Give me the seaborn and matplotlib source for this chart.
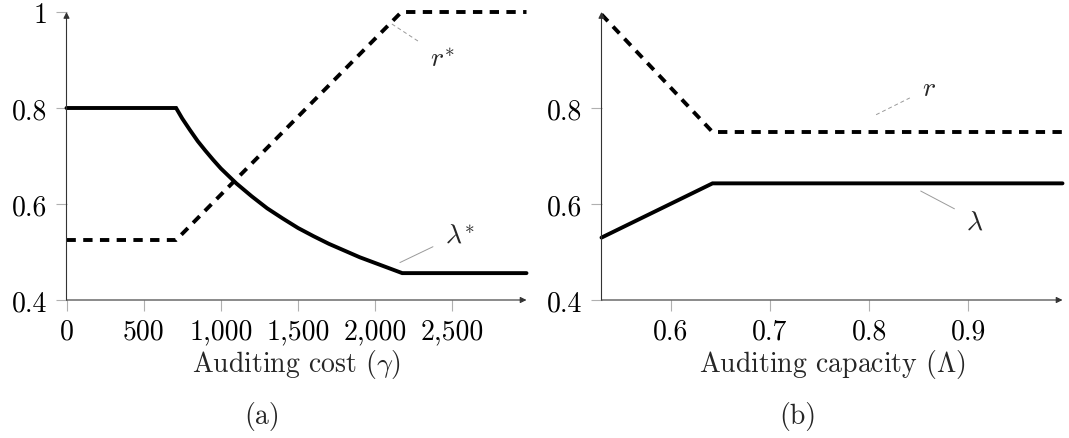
import numpy as np
import pandas as pd
import matplotlib
matplotlib.use("Agg")
import matplotlib.pyplot as plt
import seaborn as sns

# ---------------- data ----------------
# Panel (a): auditing cost gamma
gamma_lam = [0, 710, 750, 800, 850, 900, 950, 1000, 1100, 1200, 1300, 1400,
             1500, 1600, 1700, 1800, 1900, 2000, 2100, 2175, 2980]
lam_star = [0.800, 0.800, 0.778, 0.754, 0.731, 0.711, 0.692, 0.674, 0.643,
            0.616, 0.591, 0.570, 0.550, 0.533, 0.517, 0.503, 0.489, 0.477,
            0.465, 0.456, 0.456]
gamma_r = [0, 710, 2170, 2980]
r_star = [0.525, 0.525, 1.000, 1.000]
xticks_a = [0, 500, 1000, 1500, 2000, 2500]
xticklabels_a = ["0", "500", "1,000", "1,500", "2,000", "2,500"]
yticks_a = [0.4, 0.6, 0.8, 1.0]
yticklabels_a = ["0.4", "0.6", "0.8", "1"]

# Panel (b): auditing capacity Lambda
cap_lam = [0.53, 0.642, 0.995]
lam_b = [0.530, 0.643, 0.643]
cap_r = [0.53, 0.642, 0.995]
r_b = [0.995, 0.750, 0.750]
xticks_b = [0.6, 0.7, 0.8, 0.9]
xticklabels_b = ["0.6", "0.7", "0.8", "0.9"]
yticks_b = [0.4, 0.6, 0.8]
yticklabels_b = ["0.4", "0.6", "0.8"]

# ---------------- style ----------------
sns.set_theme(style="white")
plt.rcParams["font.family"] = ["cmr10", "DejaVu Serif"]
plt.rcParams["mathtext.fontset"] = "cm"
plt.rcParams["axes.formatter.use_mathtext"] = True
FS = 20

fig = plt.figure(figsize=(10.69, 4.39), dpi=100)
W, H = 1069, 439
def box(l, r, t, b):
    return [l / W, 1 - b / H, (r - l) / W, (b - t) / H]

axa = fig.add_axes(box(66.5, 526.5, 13, 301))
axb = fig.add_axes(box(601.5, 1062.5, 13, 301))

LW = 2.8
DASH = (0, (2.4, 1.9))

df_la = pd.DataFrame({"x": gamma_lam, "y": lam_star})
df_ra = pd.DataFrame({"x": gamma_r, "y": r_star})
sns.lineplot(data=df_la, x="x", y="y", ax=axa, color="black", lw=LW,
             estimator=None, sort=False)
sns.lineplot(data=df_ra, x="x", y="y", ax=axa, color="black", lw=LW,
             estimator=None, sort=False, linestyle=DASH)

df_lb = pd.DataFrame({"x": cap_lam, "y": lam_b})
df_rb = pd.DataFrame({"x": cap_r, "y": r_b})
sns.lineplot(data=df_lb, x="x", y="y", ax=axb, color="black", lw=LW,
             estimator=None, sort=False)
sns.lineplot(data=df_rb, x="x", y="y", ax=axb, color="black", lw=LW,
             estimator=None, sort=False, linestyle=DASH)
for ln in axa.lines + axb.lines:
    ln.set_dash_capstyle("butt")
    ln.set_solid_joinstyle("miter")
    ln.set_clip_on(False)

def style_axis(ax, xlim, ylim, xt, xtl, yt, ytl, xlabel):
    ax.set_xlim(*xlim)
    ax.set_ylim(*ylim)
    ax.set_xticks(xt)
    ax.set_xticklabels(xtl)
    ax.set_yticks(yt)
    ax.set_yticklabels(ytl)
    for s in ax.spines.values():
        s.set_visible(False)
    ax.tick_params(axis="both", which="major", direction="out", length=8,
                   width=0.8, color="#b0b0b0", labelsize=FS, labelcolor="black",
                   bottom=True, left=True)
    ax.tick_params(axis="y", pad=6)
    ax.tick_params(axis="x", pad=5)
    ax.set_xlabel(xlabel, fontsize=FS, labelpad=2)
    ax.set_ylabel("")
    ax.grid(False)
    ax.set_facecolor("none")
    arrow = dict(arrowstyle="-|>", color="#333333", lw=0.8,
                 mutation_scale=9, shrinkA=0, shrinkB=0)
    ax.annotate("", xy=(1.0, 0), xytext=(0, 0), xycoords="axes fraction",
                textcoords="axes fraction", arrowprops=arrow, annotation_clip=False)
    ax.annotate("", xy=(0, 1.0), xytext=(0, 0), xycoords="axes fraction",
                textcoords="axes fraction", arrowprops=arrow, annotation_clip=False)

style_axis(axa, (0, 2980), (0.4, 1.0), xticks_a, xticklabels_a, yticks_a,
           yticklabels_a, r"Auditing cost ($\gamma$)")
style_axis(axb, (0.53, 0.995), (0.4, 1.0), xticks_b, xticklabels_b, yticks_b,
           yticklabels_b, r"Auditing capacity ($\Lambda$)")

# pins and labels
PIN = "#9a9a9a"
axa.plot([2108, 2284], [0.975, 0.938], color=PIN, lw=0.7, linestyle=(0, (4, 3)))
axa.text(2355, 0.887, r"$r^{*}$", fontsize=FS, ha="left", va="baseline")
axa.plot([2160, 2374], [0.478, 0.511], color=PIN, lw=0.7)
axa.text(2452, 0.520, r"$\lambda^{*}$", fontsize=FS, ha="left", va="baseline")

axb.plot([0.807, 0.841], [0.786, 0.821], color=PIN, lw=0.7, linestyle=(0, (4, 3)))
axb.text(0.853, 0.828, r"$r$", fontsize=FS, ha="left", va="baseline")
axb.plot([0.852, 0.886], [0.627, 0.590], color=PIN, lw=0.7)
axb.text(0.898, 0.548, r"$\lambda$", fontsize=FS, ha="left", va="baseline")

fig.text(262 / W, 1 - 417 / H, "(a)", fontsize=FS, ha="center", va="center")
fig.text(798 / W, 1 - 417 / H, "(b)", fontsize=FS, ha="center", va="center")

fig.savefig("out.png", dpi=100, facecolor="white")
